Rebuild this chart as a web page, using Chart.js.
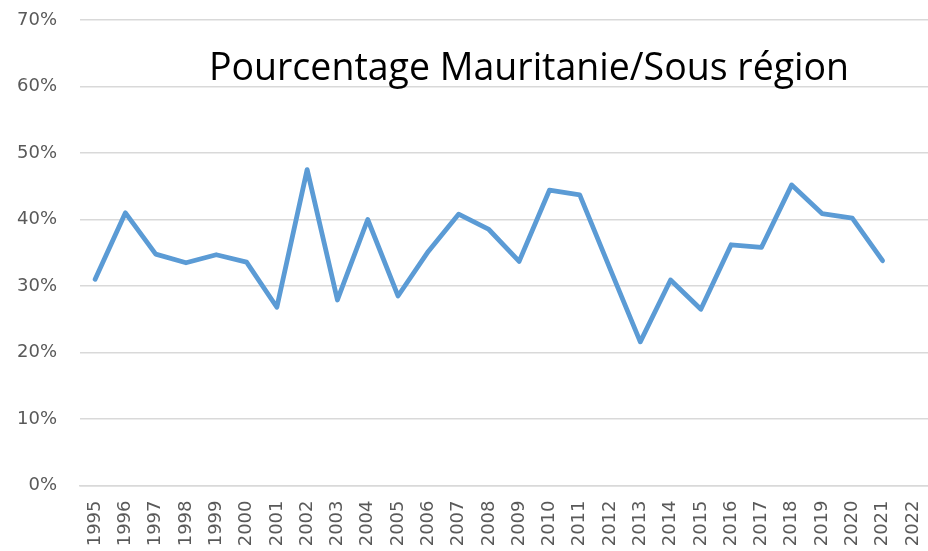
<!DOCTYPE html>
<html><head><meta charset="utf-8">
<script src="https://cdn.jsdelivr.net/npm/chart.js@4/dist/chart.umd.min.js"></script>
<style>html,body{margin:0;padding:0;background:#fff}#wrap{width:928px;height:551px}</style>
</head><body><div id="wrap"><canvas id="c" width="928" height="551"></canvas></div>
<script>
const years = ["1995","1996","1997","1998","1999","2000","2001","2002","2003","2004","2005","2006","2007","2008","2009","2010","2011","2012","2013","2014","2015","2016","2017","2018","2019","2020","2021","2022"];
const pourcentage = [31.0,41.0,34.8,33.5,34.7,33.6,26.8,47.5,27.9,40.0,28.5,35.2,40.8,38.5,33.7,44.4,43.7,32.6,21.6,30.9,26.5,36.2,35.8,45.2,40.9,40.2,33.8,null];
const yTickValues = [0,10,20,30,40,50,60,70];
const chartTitle = "Pourcentage Mauritanie/Sous région";

const titlePlugin = {
  id: 'overlayTitle',
  afterDraw(chart) {
    const ctx = chart.ctx;
    ctx.save();
    ctx.font = '37.5px "Open Sans"';
    ctx.fillStyle = '#000';
    ctx.textAlign = 'center';
    ctx.textBaseline = 'alphabetic';
    ctx.fillText(chartTitle, 529, 80);
    ctx.restore();
  }
};

new Chart(document.getElementById('c'), {
  type: 'line',
  data: { labels: years, datasets: [{ data: pourcentage, borderColor: '#5B9BD5', borderWidth: 4.8, pointRadius: 0, tension: 0, fill: false, borderCapStyle: 'round', borderJoinStyle: 'round' }] },
  options: {
    responsive: false, animation: false,
    layout: { padding: { top: 20, right: 0, left: 0, bottom: 0 } },
    plugins: { legend: { display: false }, tooltip: { enabled: false } },
    scales: {
      x: {
        offset: true,
        grid: { display: false, drawTicks: false },
        border: { color: '#D9D9D9', width: 1.5 },
        ticks: { minRotation: 90, maxRotation: 90, color: '#595959', font: { family: '"DejaVu Sans"', size: 18 }, padding: 15, autoSkip: false },
        afterFit(s) { s.height = 65.5; s.paddingRight = 0; s.paddingLeft = 0; }
      },
      y: {
        min: yTickValues[0], max: yTickValues[yTickValues.length - 1],
        grid: { color: '#D9D9D9', lineWidth: 1.5, drawTicks: false },
        border: { display: false },
        ticks: { stepSize: 10, color: '#595959', font: { family: '"DejaVu Sans"', size: 18 }, padding: 23,
          callback: v => v + '%' },
        afterFit(s) { s.width = 80; s.paddingTop = 0; s.paddingBottom = 0; }
      }
    }
  },
  plugins: [titlePlugin]
});
</script>
</body></html>
